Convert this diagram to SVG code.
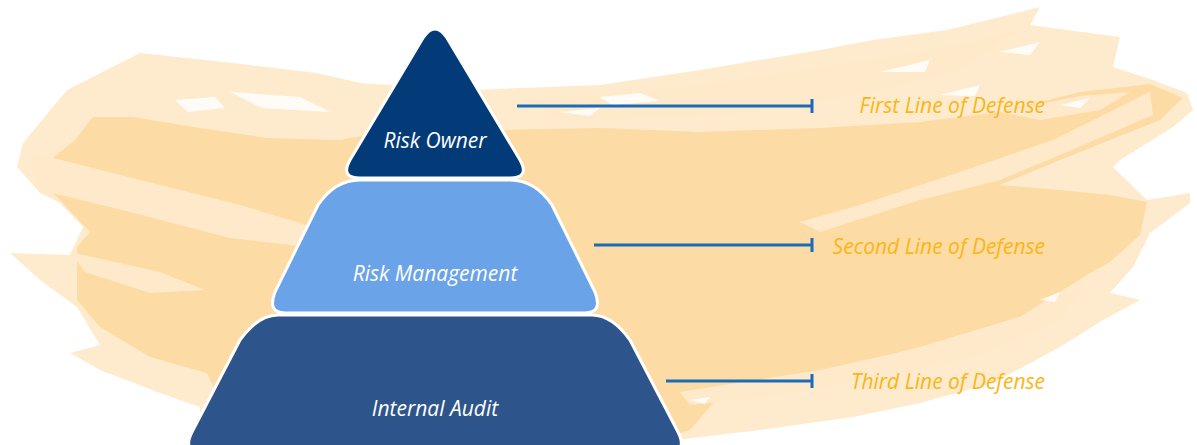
<svg xmlns="http://www.w3.org/2000/svg" width="1197" height="445" viewBox="0 0 1197 445">
<style>
.lbl{font-family:"Open Sans","Liberation Sans",sans-serif;font-style:italic;font-size:21px;fill:#ffffff;text-anchor:middle}
.def{font-family:"Open Sans","Liberation Sans",sans-serif;font-style:italic;font-size:21px;fill:#fbb515;text-anchor:end}
.conn{stroke:#1a6cb8;stroke-width:3;fill:none}
.tier{stroke:#ffffff;stroke-width:3;stroke-linejoin:round}
.light{fill:#feeacb}
.fleck{fill:#ffffff;opacity:0.85}
</style>
<rect width="1197" height="445" fill="#ffffff"/>
<g id="background">
<path fill="#feebcd" d="M140,53 L233,63 L317,73 L360,83 L470,90 L600,85 L700,70 L820,50 L873,40 L947,30 L1040,7 L1030,25 L1120,37 L1113,67 L1153,80 L1187,93 L1193,110 L1173,127 L1120,160 L1113,167 L1147,200 L1190,193 L1190,203 L1150,233 L1133,267 L1110,293 L1140,300 L1103,320 L1060,347 L993,383 L920,403 L853,417 L760,430 L676,440 L660,445 L200,445 L200,407 L160,393 L100,370 L70,353 L100,345 L77,307 L40,280 L10,253 L70,255 L83,227 L60,203 L40,193 L17,167 L23,143 L67,90 Z"/>
<path fill="#fddba4" d="M93,117 L133,117 L200,128 L267,138 L340,140 L420,125 L500,130 L600,128 L700,132 L820,128 L920,122 L1000,112 L1080,92 L1150,84 L1183,98 L1160,120 L1110,140 L1060,160 L1000,185 L1060,190 L1110,195 L1147,202 L1140,235 L1110,262 L1087,275 L1020,317 L920,347 L820,372 L720,395 L690,430 L640,445 L240,445 L207,373 L150,357 L100,327 L77,300 L77,247 L90,232 L60,200 L45,185 L50,160 L75,140 Z"/>
<path class="light" d="M30,152 L140,180 L240,205 L310,226 L300,246 L230,238 L130,212 L40,190 Z"/>
<path class="light" d="M70,252 L160,272 L205,290 L150,293 L85,272 Z"/>
<path class="light" d="M820,232 L920,200 L1000,180 L1053,158 L1153,115 L1150,92 L1053,140 L960,172 L860,205 L800,222 Z"/>
<path class="light" d="M680,392 L820,370 L920,348 L1020,318 L1087,280 L1060,320 L980,355 L880,378 L760,398 L690,405 Z"/>
<path class="light" d="M520,98 L600,95 L700,85 L800,70 L900,55 L980,40 L1020,30 L960,70 L880,90 L780,110 L680,118 L560,120 Z"/>
<path class="light" d="M1000,112 L1080,96 L1130,92 L1100,110 L1040,120 Z"/>
<path class="fleck" d="M230,92 L300,97 L330,112 L262,108 Z M175,100 L215,97 L225,108 L188,112 Z M600,97 L640,93 L660,101 L612,105 Z M880,72 L930,60 L925,72 Z M1000,52 L1040,42 L1030,55 Z M940,95 L980,85 L975,96 Z M1060,105 L1090,98 L1080,108 Z M1040,300 L1060,292 L1055,302 Z M1080,340 L1100,330 L1092,342 Z M690,400 L710,397 L705,404 Z M560,112 L600,108 L590,116 Z"/>
</g>
<g id="connectors">
<path class="conn" d="M517,106 H812 M812,99 V113"/>
<path class="conn" d="M594,245 H812 M812,238 V252"/>
<path class="conn" d="M666,381 H812 M812,374 V388"/>
</g>
<g id="internal-audit">
<path class="tier" fill="#2e558b" d="M278,315 L592,315 Q612,315 630,340 L678,432 Q688,452 668,452 L202,452 Q182,452 192,432 L240,340 Q258,315 278,315 Z"/>
<text class="lbl" x="435" y="416">Internal Audit</text>
</g>
<g id="risk-management">
<path class="tier" fill="#6aa3e8" d="M360,180 L510,180 Q535,180 552,205 L595,292 Q603,313 585,313 L285,313 Q267,313 275,292 L318,205 Q335,180 360,180 Z"/>
<text class="lbl" x="435" y="281">Risk Management</text>
</g>
<g id="risk-owner">
<path class="tier" fill="#033b78" d="M423,38 Q435,20 447,38 L520,160 Q530,178 510,178 L360,178 Q340,178 350,160 Z"/>
<text class="lbl" x="435" y="148">Risk Owner</text>
</g>
<g id="labels">
<text class="def" x="1045" y="113">First Line of Defense</text>
<text class="def" x="1045" y="254">Second Line of Defense</text>
<text class="def" x="1045" y="389">Third Line of Defense</text>
</g>
</svg>
